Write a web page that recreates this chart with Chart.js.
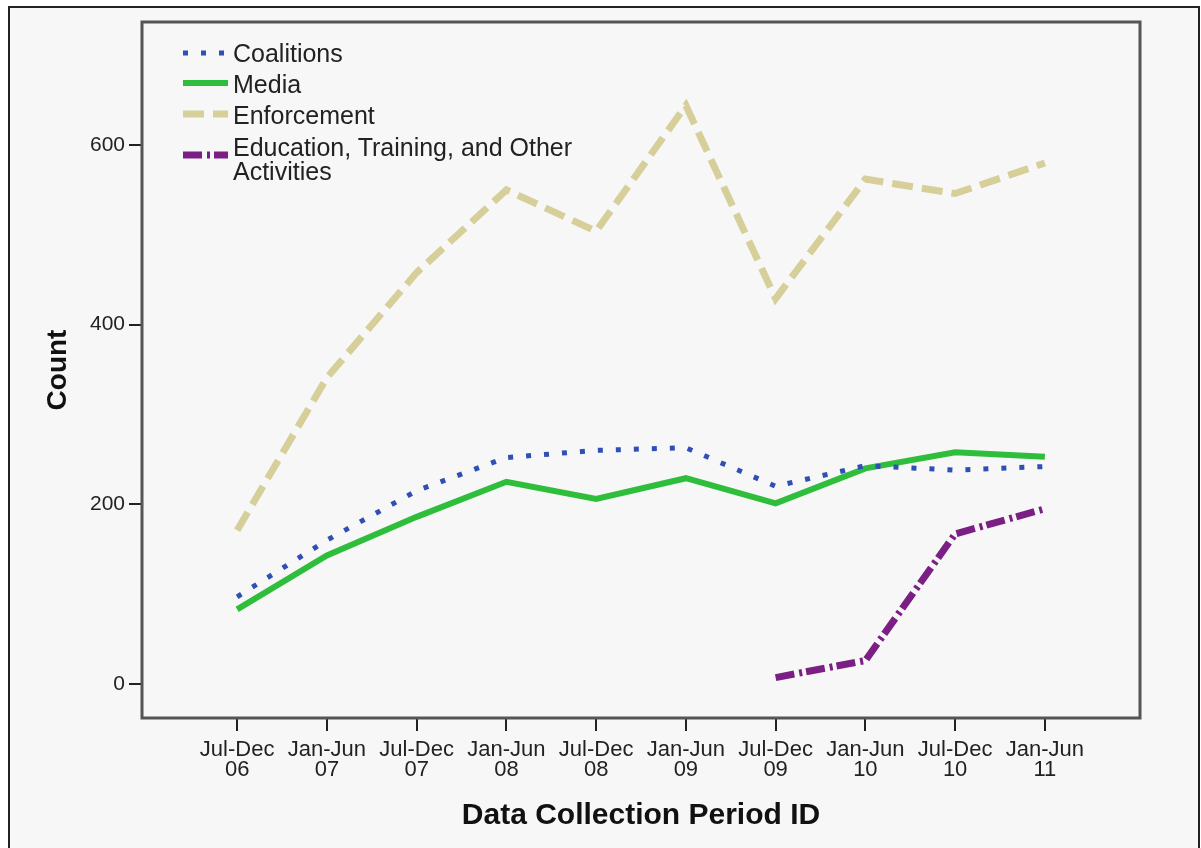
<!DOCTYPE html>
<html>
<head>
<meta charset="utf-8">
<script src="https://cdn.jsdelivr.net/npm/chart.js@4"></script>
<style>
  html, body { margin: 0; padding: 0; background: #fff; }
  #wrap { position: relative; width: 1201px; height: 848px; overflow: hidden; }
  #box { position: absolute; left: 8px; top: 6px; width: 1188px; height: 900px; border: 2px solid #222; background: #f7f7f7; }
  #myChart { position: absolute; left: 0; top: 0; }
  .lg { position: absolute; font-family: "Liberation Sans", Arial, sans-serif; font-size: 25px; line-height: 24px; color: #222; white-space: nowrap; }
  #samples { position: absolute; left: 0; top: 0; }
</style>
</head>
<body>
<div id="wrap">
  <div id="box"></div>
  <canvas id="myChart" width="1201" height="848"></canvas>
  <svg id="samples" width="300" height="200">
    <line x1="183" y1="53" x2="228" y2="53" stroke="#2f4fb5" stroke-width="5" stroke-dasharray="5 13"/>
    <line x1="183" y1="83" x2="228" y2="83" stroke="#2fbe3c" stroke-width="6"/>
    <line x1="183" y1="114" x2="228" y2="114" stroke="#d6cf9a" stroke-width="7" stroke-dasharray="21 9"/>
    <line x1="183" y1="155" x2="228" y2="155" stroke="#7b1f85" stroke-width="7" stroke-dasharray="19 5 3 4"/>
  </svg>
  <div class="lg" style="left:233px; top:41px;">Coalitions</div>
  <div class="lg" style="left:233px; top:72px;">Media</div>
  <div class="lg" style="left:233px; top:103px;">Enforcement</div>
  <div class="lg" style="left:233px; top:135px;">Education, Training, and Other<br>Activities</div>
</div>
<script>
// periods on the x axis, two lines per label
const periods = [
  ['Jul-Dec', '06'], ['Jan-Jun', '07'], ['Jul-Dec', '07'], ['Jan-Jun', '08'], ['Jul-Dec', '08'],
  ['Jan-Jun', '09'], ['Jul-Dec', '09'], ['Jan-Jun', '10'], ['Jul-Dec', '10'], ['Jan-Jun', '11']
];

const coalitions = [97, 160, 215, 252, 260, 263, 220, 243, 238, 242];
const media = [83, 143, 186, 225, 206, 229, 201, 240, 258, 253];
const enforcement = [171, 341, 458, 550, 504, 644, 429, 562, 546, 580];
const education = [null, null, null, null, null, null, 7, 26, 167, 195];

const yTicks = [0, 200, 400, 600];

const toPoints = arr => arr.map((v, i) => ({ x: i, y: v }));

const frame = {
  id: 'frame',
  beforeDatasetsDraw(chart) {
    const a = chart.chartArea;
    const c = chart.ctx;
    c.save();
    c.strokeStyle = '#555';
    c.lineWidth = 3;
    c.strokeRect(a.left, a.top, a.right - a.left, a.bottom - a.top);
    c.restore();
  }
};

const ctx = document.getElementById('myChart').getContext('2d');

new Chart(ctx, {
  type: 'line',
  data: {
    datasets: [
      { label: 'Coalitions', data: toPoints(coalitions), borderColor: '#2f4fb5', borderWidth: 5, borderDash: [5, 13] },
      { label: 'Media', data: toPoints(media), borderColor: '#2fbe3c', borderWidth: 6 },
      { label: 'Enforcement', data: toPoints(enforcement), borderColor: '#d6cf9a', borderWidth: 7, borderDash: [21, 9] },
      { label: 'Education, Training, and Other Activities', data: toPoints(education), borderColor: '#7b1f85', borderWidth: 7, borderDash: [19, 5, 3, 4] }
    ]
  },
  options: {
    responsive: false,
    animation: false,
    spanGaps: false,
    elements: { point: { radius: 0 }, line: { tension: 0, fill: false } },
    layout: { padding: { left: 0, top: 22, right: 61, bottom: 0 } },
    plugins: { legend: { display: false }, tooltip: { enabled: false } },
    scales: {
      x: {
        type: 'linear',
        min: -1.06,
        max: 10.06,
        afterBuildTicks: axis => { axis.ticks = periods.map((p, i) => ({ value: i })); },
        afterFit: axis => { axis.height = 130; },
        border: { display: false },
        grid: { drawOnChartArea: false, tickLength: 13, color: '#222', lineWidth: 2 },
        ticks: {
          autoSkip: false,
          maxRotation: 0,
          padding: 9,
          color: '#222',
          font: { family: 'Liberation Sans', size: 22, lineHeight: '20px' },
          callback: v => periods[v]
        },
        title: {
          display: true,
          text: 'Data Collection Period ID',
          color: '#111',
          font: { family: 'Liberation Sans', size: 30, weight: 'bold' },
          padding: { top: 0, bottom: 14 }
        }
      },
      y: {
        min: -38,
        max: 737,
        afterBuildTicks: axis => { axis.ticks = yTicks.map(v => ({ value: v })); },
        afterFit: axis => { axis.width = 142; },
        border: { display: false },
        grid: { drawOnChartArea: false, tickLength: 13, color: '#222', lineWidth: 2 },
        ticks: {
          padding: 4,
          color: '#222',
          font: { family: 'Liberation Sans', size: 21 }
        },
        title: {
          display: true,
          text: 'Count',
          color: '#111',
          font: { family: 'Liberation Sans', size: 28, weight: 'bold' },
          padding: { top: 41, bottom: 0 }
        }
      }
    }
  },
  plugins: [frame]
});
</script>
</body>
</html>
